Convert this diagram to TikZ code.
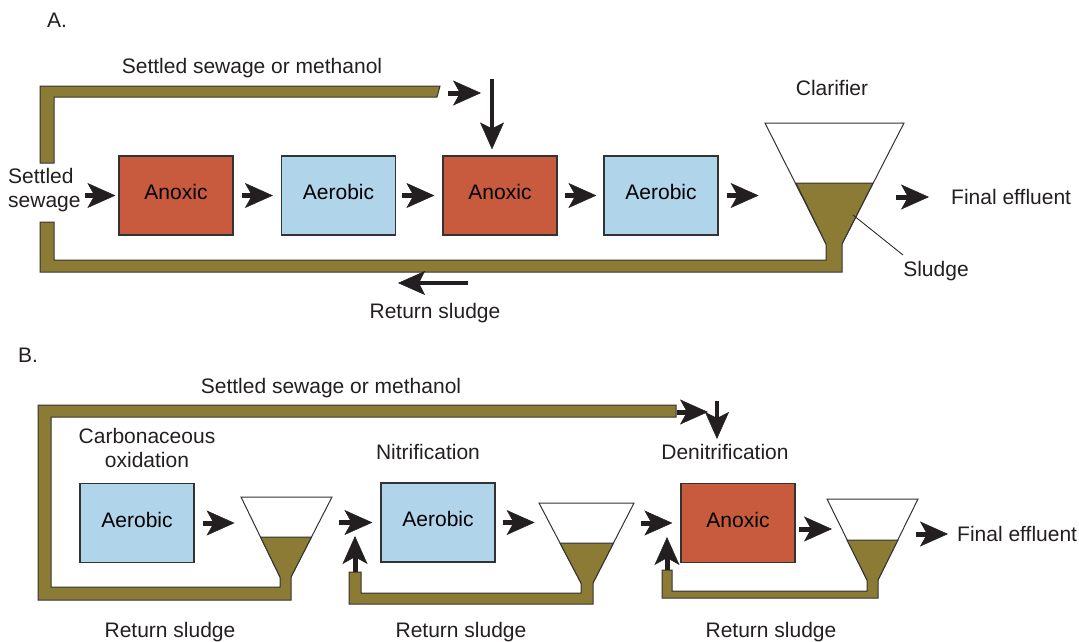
\documentclass[tikz,border=0pt]{standalone}
\usepackage{fontspec}
\setmainfont{Liberation Sans}
\usetikzlibrary{arrows.meta}
\definecolor{anox}{HTML}{C85B3E}
\definecolor{aero}{HTML}{B0D4E9}
\definecolor{sludgec}{HTML}{8B7B35}
\definecolor{edgec}{HTML}{333333}
\definecolor{ink}{HTML}{231F20}
\tikzset{
  tank/.style={draw=edgec, line width=1.2pt, minimum width=114pt, minimum height=79pt, inner sep=0pt, text height=15pt, text depth=7pt},
  anoxbox/.style={tank, fill=anox},
  aerobox/.style={tank, fill=aero},
  pipe/.style={fill=sludgec, draw=edgec, line width=1pt, line join=miter},
  cone/.style={fill=white, draw=edgec, line width=1pt},
  fat/.style={draw=ink, line width=5pt, -{Stealth[length=28pt,width=25pt,inset=7pt,line width=0.5pt]}},
  slim/.style={draw=ink, line width=3.3pt, -{Stealth[length=27pt,width=24pt,inset=6pt,line width=0.5pt]}},
  lbl/.style={inner sep=0pt, text=ink}
}
\begin{document}
\begin{tikzpicture}[x=1pt,y=-1pt,font=\fontsize{21}{24}\selectfont]
\useasboundingbox (0,0) rectangle (1079,642);

% ---------------- Part A ----------------
\node[lbl] (labA) at (57,20) {A.};
\node[lbl] (ssmA) at (252,68) {Settled sewage or methanol};
\node[lbl] (clar) at (832,88) {Clarifier};
\node[lbl, align=left, anchor=west] (ssA) at (8,190) {Settled\\sewage};
\node[lbl, anchor=west] (fe1) at (951,197) {Final effluent};
\node[lbl] (sludgeA) at (936,271) {Sludge};
\node[lbl] (rsA) at (435,313) {Return sludge};

% pipes A
\draw[pipe] (40,163) -- (40,86) -- (440,86) -- (437,97) -- (54,97) -- (54,163) -- cycle;
\draw[cone] (765,123) -- (904,123) -- (842,244) -- (826,244) -- cycle;
\draw[pipe] (40,222) -- (40,272) -- (842,272) -- (842,244) -- (873,183) -- (796,183)
  -- (826,244) -- (826,260) -- (54,260) -- (54,222) -- cycle;

% boxes A
\node[anoxbox] (an1) at (176,195.5) {Anoxic};
\node[aerobox] (ae1) at (338.5,195.5) {Aerobic};
\node[anoxbox] (an2) at (500,195.5) {Anoxic};
\node[aerobox] (ae2) at (661,195.5) {Aerobic};

% arrows A
\draw[fat] ([xshift=-33pt]an1.west) -- ([xshift=-3pt]an1.west);
\draw[fat] ([xshift=8pt]an1.east) -- ([xshift=-8pt]ae1.west);
\draw[fat] ([xshift=6pt]ae1.east) -- ([xshift=-8pt]an2.west);
\draw[fat] ([xshift=7pt]an2.east) -- ([xshift=-7pt]ae2.west);
\draw[fat] ([xshift=8pt]ae2.east) -- ([xshift=40pt]ae2.east);
\draw[fat] ([xshift=-55pt]fe1.west) -- ([xshift=-22pt]fe1.west);
\coordinate (pa1) at (448,93);
\coordinate (pa2) at (481,93);
\draw[fat] (pa1) -- (pa2);
\coordinate (vA) at (492,79);
\draw[slim] (vA) -- ([yshift=6pt]vA |- an2.north);
\coordinate (rA1) at (468,283);
\coordinate (rA2) at (398,283);
\draw[slim] (rA1) -- (rA2);
\coordinate (sl1) at (853,215);
\coordinate (sl2) at (903,255);
\draw[edgec, line width=0.9pt] (sl1) -- (sl2);

% ---------------- Part B ----------------
\node[lbl] (labB) at (28,355) {B.};
\node[lbl] (ssmB) at (331,388) {Settled sewage or methanol};
\node[lbl, align=center] (carb) at (147,448) {Carbonaceous\\oxidation};
\node[lbl] (nitr) at (428,452) {Nitrification};
\node[lbl] (denit) at (725,452) {Denitrification};
\node[lbl, anchor=west] (fe2) at (957,534) {Final effluent};
\node[lbl] (rs1) at (170,632) {Return sludge};
\node[lbl] (rs2) at (461,632) {Return sludge};
\node[lbl] (rs3) at (771,632) {Return sludge};

% clarifier 1 + big loop pipe
\draw[cone] (241,497) -- (332,497) -- (291,577) -- (280,577) -- cycle;
\draw[pipe] (676,405) -- (38,405) -- (38,600) -- (291,600) -- (291,577) -- (311.5,537)
  -- (260.5,537) -- (280,577) -- (280,587) -- (51,587) -- (51,417) -- (676,417) -- cycle;
% clarifier 2
\draw[cone] (539,503) -- (634,503) -- (593,583) -- (581,583) -- cycle;
\draw[pipe] (349,572) -- (349,604) -- (593,604) -- (593,583) -- (613.5,543) -- (560,543)
  -- (581,583) -- (581,593) -- (361,593) -- (361,572) -- cycle;
% clarifier 3
\draw[cone] (827,499) -- (918,499) -- (878,580) -- (867,580) -- cycle;
\draw[pipe] (662,570) -- (662,598) -- (878,598) -- (878,580) -- (898,540) -- (847,540)
  -- (867,580) -- (867,591) -- (672,591) -- (672,570) -- cycle;

% boxes B
\node[aerobox] (b1) at (137,523) {Aerobic};
\node[aerobox] (b2) at (438,522.5) {Aerobic};
\node[anoxbox] (b3) at (738,523) {Anoxic};

% arrows B
\draw[fat] ([xshift=8pt]b1.east) -- ([xshift=40pt]b1.east);
\draw[fat] ([xshift=-41pt]b2.west) -- ([xshift=-8pt]b2.west);
\draw[fat] ([xshift=7pt]b2.east) -- ([xshift=39pt]b2.east);
\draw[fat] ([xshift=-39pt]b3.west) -- ([xshift=-8pt]b3.west);
\coordinate (b3a1) at (799,529);
\coordinate (b3a2) at (832,529);
\draw[fat] (b3a1) -- (b3a2);
\draw[fat] ([xshift=-41pt]fe2.west) -- ([xshift=-9pt]fe2.west);
\coordinate (up2a) at (355,572);
\coordinate (up2b) at (355,536);
\draw[fat] (up2a) -- (up2b);
\coordinate (up3a) at (667,570);
\coordinate (up3b) at (667,537);
\draw[fat] (up3a) -- (up3b);
\coordinate (pb1) at (677,412);
\coordinate (pb2) at (708,412);
\draw[fat] (pb1) -- (pb2);
\coordinate (vB1) at (717,401);
\coordinate (vB2) at (717,439);
\draw[slim] (vB1) -- (vB2);
\end{tikzpicture}
\end{document}
